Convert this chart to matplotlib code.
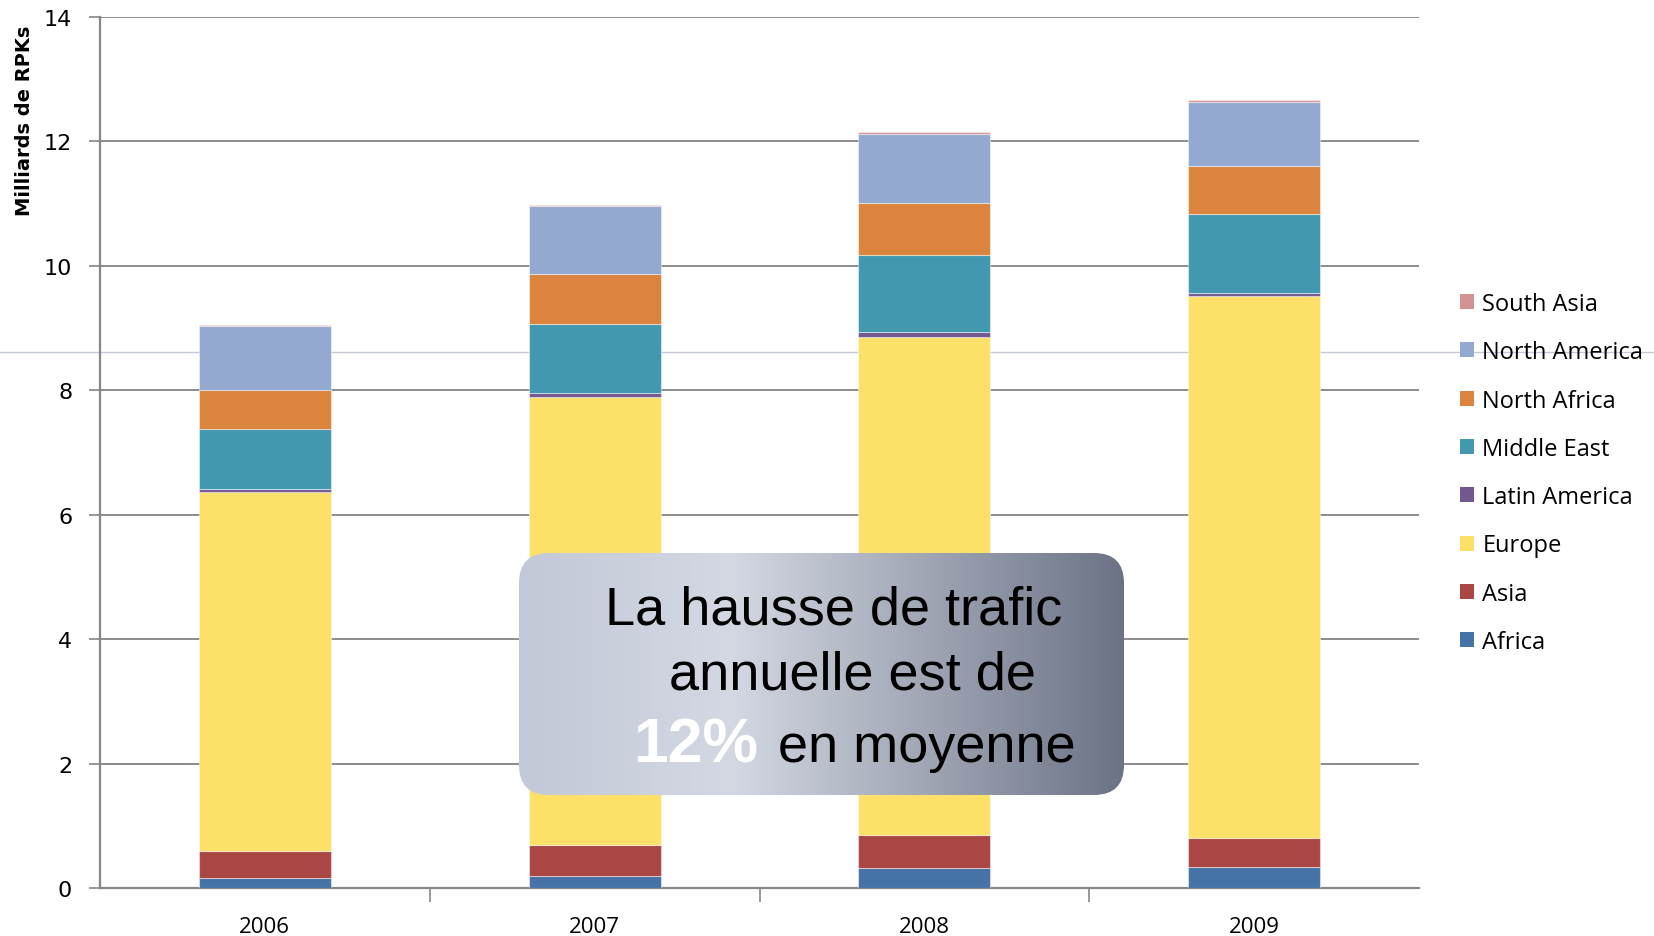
import numpy as np
import matplotlib
matplotlib.use("Agg")
import matplotlib.pyplot as plt
from matplotlib.patches import FancyBboxPatch, Patch
from matplotlib.lines import Line2D
from matplotlib.colors import LinearSegmentedColormap

# Data (milliards de RPKs)
years = ["2006", "2007", "2008", "2009"]
regions = ["Africa", "Asia", "Europe", "Latin America", "Middle East",
           "North Africa", "North America", "South Asia"]
africa = [0.16, 0.19, 0.32, 0.34]
asia = [0.44, 0.50, 0.53, 0.46]
europe = [5.76, 7.21, 8.01, 8.71]
latin_america = [0.05, 0.05, 0.07, 0.06]
middle_east = [0.96, 1.12, 1.24, 1.26]
north_africa = [0.63, 0.80, 0.84, 0.78]
north_america = [1.03, 1.09, 1.11, 1.02]
south_asia = [0.02, 0.02, 0.03, 0.03]
series = [africa, asia, europe, latin_america, middle_east,
          north_africa, north_america, south_asia]
colors = ["#4572A7", "#AA4643", "#FDE068", "#71588F", "#4198AF",
          "#DB843D", "#93A9CF", "#D19392"]

W, H = 1654, 937
fig = plt.figure(figsize=(W / 100, H / 100), dpi=100)

# stray horizontal line across the whole slide
fig.add_artist(Line2D([0, 1], [1 - 353 / H, 1 - 353 / H], transform=fig.transFigure,
                      color="#C3C9D9", lw=1.0, zorder=-1))

ax = fig.add_axes([100 / W, 1 - 889 / H, (1419 - 100) / W, (889 - 18) / H])
ax.patch.set_alpha(0)

x = np.arange(len(years))
bottom = np.zeros(len(years))
for vals, col, name in zip(series, colors, regions):
    ax.bar(x, vals, width=0.4, bottom=bottom, color=col, label=name,
           edgecolor=(1, 1, 1, 0.45), linewidth=0.8, zorder=3)
    bottom += np.array(vals)

ax.set_xlim(-0.5, len(years) - 0.5)
ax.set_ylim(0, 14)
ax.set_yticks(range(0, 15, 2))
ax.yaxis.grid(True, color="#8C8C8C", lw=1.4, zorder=0)
ax.set_axisbelow(True)

for s in ["top", "right"]:
    ax.spines[s].set_visible(False)
for s in ["left", "bottom"]:
    ax.spines[s].set_color("#868686")
    ax.spines[s].set_linewidth(1.6)

ax.set_xticks(x)
ax.set_xticklabels(years, fontsize=16, family="Open Sans")
ax.set_xticks(np.arange(0.5, len(years) - 0.5, 1), minor=True)
ax.tick_params(axis="x", which="major", length=0, pad=20)
ax.tick_params(axis="x", which="minor", length=10, color="#868686", width=1.2)
ax.tick_params(axis="y", length=8, color="#868686", width=1.2, pad=12)
for lab in ax.get_yticklabels():
    lab.set_fontsize(16)
    lab.set_family("DejaVu Sans")

fig.text(25 / W, 1 - 121 / H, "Milliards de RPKs", rotation=90, ha="center", va="center",
         fontsize=14, fontweight="bold", family=["Liberation Sans Narrow", "DejaVu Sans"])

# legend, reversed order like the original
handles = [Patch(facecolor=c) for c in colors][::-1]
fig.legend(handles, regions[::-1], loc="center left",
           bbox_to_anchor=(1460 / W, 1 - 474 / H), frameon=False,
           prop={"family": "Open Sans", "size": 17},
           handlelength=0.6, handleheight=0.6, handletextpad=0.35,
           labelspacing=1.03, borderpad=0, borderaxespad=0)

# callout box with gradient fill
bx0, by0, bx1, by1 = 519, 554, 1124, 796
bw, bh = bx1 - bx0, by1 - by0
bax = fig.add_axes([bx0 / W, 1 - by1 / H, bw / W, bh / H])
bax.set_xlim(0, bw)
bax.set_ylim(0, bh)
bax.axis("off")
box = FancyBboxPatch((0, 0), bw, bh, boxstyle="round,pad=0,rounding_size=30",
                     facecolor="none", edgecolor="none", transform=bax.transData)
bax.add_patch(box)
cmap = LinearSegmentedColormap.from_list(
    "box", [(0.0, "#C2C8D7"), (0.35, "#D4D8E3"), (1.0, "#6B7385")])
grad = np.linspace(0, 1, 256).reshape(1, -1)
im = bax.imshow(grad, cmap=cmap, extent=(0, bw, 0, bh), aspect="auto", zorder=1)
im.set_clip_path(box)

tfont = {"family": "Liberation Sans", "size": 39}
fig.text(834 / W, 1 - 625 / H, "La hausse de trafic", ha="center", va="baseline", **tfont)
fig.text(852 / W, 1 - 690 / H, "annuelle est de", ha="center", va="baseline", **tfont)
fig.text(633 / W, 1 - 763 / H, "12%", ha="left", va="baseline", color="white",
         fontweight="bold", family="Liberation Sans", size=45)
fig.text(778 / W, 1 - 762 / H, "en moyenne", ha="left", va="baseline", **tfont)

fig.savefig("out.png", dpi=100)
